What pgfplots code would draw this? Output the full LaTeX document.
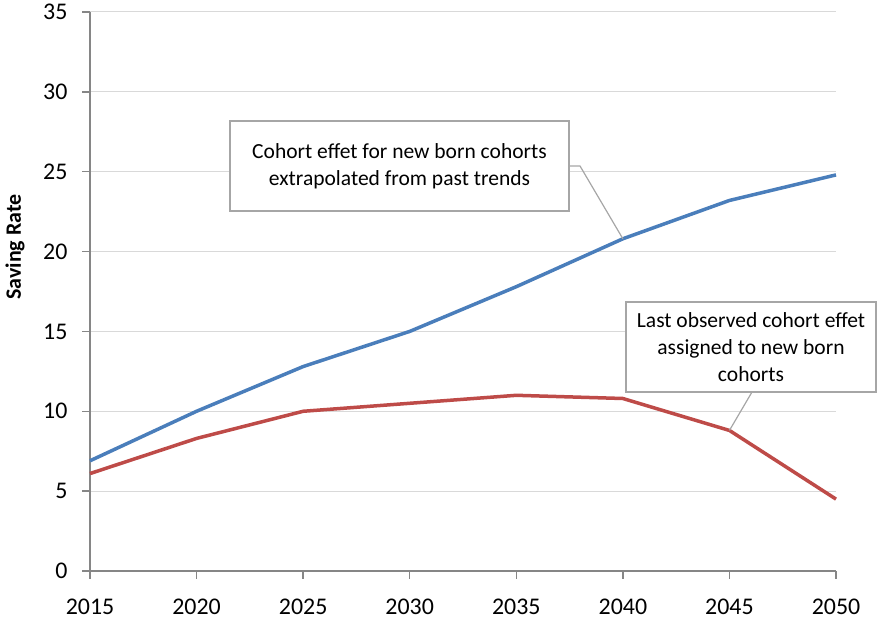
\documentclass[border=0pt]{standalone}
\usepackage{pgfplots}
\pgfplotsset{compat=1.18}
\usepackage{fontspec}
\setmainfont{Carlito}
\definecolor{cblue}{HTML}{4A7EBB}
\definecolor{cred}{HTML}{BE4B48}
\definecolor{axgray}{HTML}{868686}
\definecolor{gridgray}{HTML}{D9D9D9}
\definecolor{boxgray}{HTML}{A6A6A6}
\begin{document}
\begin{tikzpicture}[x=1bp,y=1bp]
\useasboundingbox (0,0) rectangle (877,620);
\begin{axis}[
  at={(90bp,49bp)}, anchor=south west,
  scale only axis, width=746bp, height=559bp,
  xmin=2015, xmax=2050, ymin=0, ymax=35,
  xtick={2015,2020,...,2050}, ytick={0,5,...,35},
  axis lines=left,
  axis line style={draw=axgray, line width=1.5bp, -},
  ymajorgrids, grid style={draw=gridgray, line width=1bp},
  tick style={draw=axgray, line width=1.5bp},
  tick align=outside, major tick length=8bp,
  ticklabel style={font=\fontsize{24}{28}\selectfont},
  xticklabel style={yshift=-16bp},
  yticklabel style={xshift=-11bp},
  /pgf/number format/assume math mode=true,
  /pgf/number format/1000 sep={},
  clip=false,
]
\addplot[cblue, line width=3.5bp, line join=round] coordinates {
  (2015,6.9) (2020,10.0) (2025,12.8) (2030,15.0) (2035,17.8) (2040,20.8) (2045,23.2) (2050,24.8)};
\addplot[cred, line width=3.5bp, line join=round] coordinates {
  (2015,6.1) (2020,8.3) (2025,10.0) (2030,10.5) (2035,11.0) (2040,10.8) (2045,8.8) (2050,4.5)};
\coordinate (pb) at (axis cs:2040,20.8);
\coordinate (pr) at (axis cs:2045,8.8);
\end{axis}
\draw[boxgray, line width=1.2bp] (569,454) -- (580,454) -- (pb);
\draw[boxgray, line width=1.2bp] (752,228) -- (pr);
\node[draw=boxgray, line width=1.5bp, fill=white, minimum width=339bp, minimum height=90bp,
      align=center, inner sep=0pt, font=\fontsize{21.6}{27}\selectfont] at (399.5,454)
  {Cohort effet for new born cohorts\\extrapolated from past trends};
\node[draw=boxgray, line width=1.5bp, fill=white, minimum width=250bp, minimum height=90bp,
      align=center, inner sep=0pt, font=\fontsize{21.6}{27}\selectfont] at (751,273)
  {Last observed cohort effet\\assigned to new born\\cohorts};
\node[rotate=90, font=\bfseries\fontsize{22}{26}\selectfont] at (15,373) {Saving Rate};
\end{tikzpicture}
\end{document}
